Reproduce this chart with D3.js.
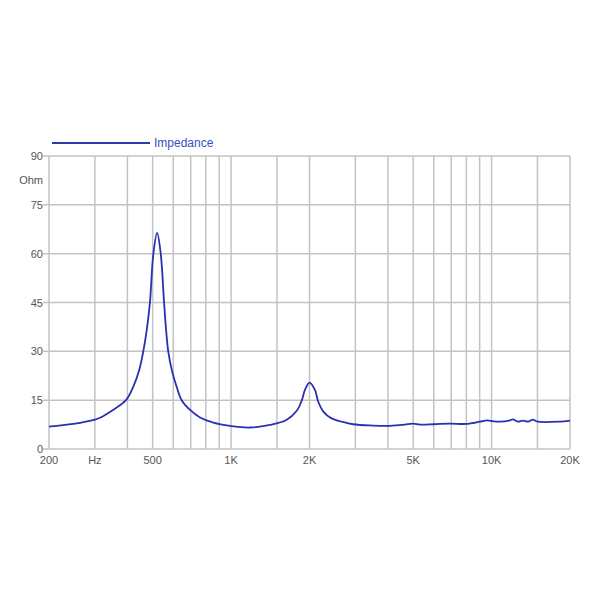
<!DOCTYPE html>
<html><head><meta charset="utf-8">
<script src="https://cdn.jsdelivr.net/npm/d3@7"></script>
<style>body{margin:0;background:#fff}svg{display:block}</style>
</head><body>
<svg id="c" width="600" height="600"></svg>
<script>
const freqs = [200,248,300,314,352,395,421,444,460,474,488,503,520,537,553,563,574,592,618,646,696,760,855,991,1180,1410,1630,1790,1870,1920,2000,2100,2160,2260,2430,2660,2940,3500,4000,4500,5000,5310,6000,6920,7980,9030,9600,9960,10770,11770,12080,12630,13200,13800,14400,15000,18300,20000];
const ohms = [6.9,7.7,9.0,9.6,12.0,15.0,19.1,24.3,29.9,36.3,44.9,59.9,66.4,60,45,36.6,29.9,24.3,19.1,15,12,9.7,8.1,7.1,6.6,7.4,8.9,11.8,15,18.1,20.4,18.1,14.5,11.5,9.4,8.4,7.6,7.2,7.1,7.4,7.8,7.5,7.6,7.8,7.7,8.4,8.8,8.6,8.4,8.8,9.1,8.4,8.7,8.4,9.0,8.4,8.4,8.7];
const gridFreqs = [200,300,400,500,600,700,800,900,1000,1500,2000,3000,4000,5000,6000,7000,8000,9000,10000,15000,20000];
const xTickVals = [200,300,500,1000,2000,5000,10000,20000];
const xTickLabels = ["200","Hz","500","1K","2K","5K","10K","20K"];
const yTicks = [0,15,30,45,60,75,90];
const seriesName = "Impedance";
const yUnit = "Ohm";

const svg = d3.select("#c");
const L=49, R=570, T=156, B=449;
const x = d3.scaleLog().domain([200,20000]).range([L,R]);
const y = d3.scaleLinear().domain([0,90]).range([B,T]);
const gridColor = "#c3c3c3";
const textColor = "#555";

const g = svg.append("g");
g.selectAll("line.v").data(gridFreqs).enter().append("line")
  .attr("x1",d=>x(d)).attr("x2",d=>x(d)).attr("y1",T).attr("y2",B)
  .attr("stroke",gridColor).attr("stroke-width",1.5);
g.selectAll("line.h").data(yTicks).enter().append("line")
  .attr("x1",L-6).attr("x2",R).attr("y1",d=>y(d)).attr("y2",d=>y(d))
  .attr("stroke",gridColor).attr("stroke-width",1.5);

const font = "Liberation Sans, Arial, sans-serif";
g.selectAll("text.y").data(yTicks).enter().append("text")
  .attr("x",L-6).attr("y",d=>y(d)+4).attr("text-anchor","end")
  .attr("font-family",font).attr("font-size",11).attr("fill",textColor).text(d=>d);
g.append("text").attr("x",L-6).attr("y",(y(90)+y(75))/2+4).attr("text-anchor","end")
  .attr("font-family",font).attr("font-size",11).attr("fill",textColor).text(yUnit);
g.selectAll("text.x").data(xTickVals).enter().append("text")
  .attr("x",d=>x(d)).attr("y",B+15).attr("text-anchor","middle")
  .attr("font-family",font).attr("font-size",11).attr("fill",textColor)
  .text((d,i)=>xTickLabels[i]);

const pts = freqs.map((f,i)=>[f,ohms[i]]);
const line = d3.line().x(d=>x(d[0])).y(d=>y(d[1])).curve(d3.curveCatmullRom.alpha(0.5));
g.append("path").datum(pts).attr("d",line).attr("fill","none")
  .attr("stroke","#2a30b0").attr("stroke-width",1.8).attr("stroke-linejoin","round");

// legend
g.append("line").attr("x1",52).attr("x2",150).attr("y1",143).attr("y2",143)
  .attr("stroke","#2a3aa8").attr("stroke-width",2);
g.append("text").attr("x",154).attr("y",147).attr("font-family",font).attr("font-size",12)
  .attr("fill","#3a4fc0").text(seriesName);
</script>
</body></html>
